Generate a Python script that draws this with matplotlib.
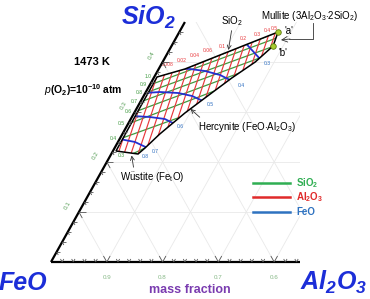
import numpy as np
import matplotlib
matplotlib.use('Agg')
import matplotlib.pyplot as plt
from matplotlib.patches import Polygon, Rectangle
from matplotlib.collections import LineCollection
from matplotlib.lines import Line2D

plt.rcParams['font.family'] = ['Liberation Sans', 'DejaVu Sans']
plt.rcParams['mathtext.fontset'] = 'custom'
plt.rcParams['mathtext.rm'] = 'Liberation Sans'
plt.rcParams['mathtext.it'] = 'Liberation Sans:italic'
plt.rcParams['mathtext.bf'] = 'Liberation Sans:bold'

H = np.sqrt(3) / 2

# compositions are mass fractions (Al2O3, SiO2), FeO is the balance
# liquid region boundary
sio2_sat_al = [0.005, 0.047, 0.089, 0.131, 0.177]
sio2_sat_si = [0.370, 0.386, 0.410, 0.434, 0.460]
herc_al = [0.182, 0.166, 0.140, 0.109, 0.091, 0.067, 0.0545]
herc_si = [0.432, 0.400, 0.368, 0.324, 0.298, 0.256, 0.228]
wus_al = [0.048, 0.0055]
wus_si = [0.216, 0.222]
fs_al = [0.005]
fs_si = [0.300]

point_a = (0.177, 0.460)
point_b = (0.182, 0.432)

# SiO2 iso-activity lines
sio2_act = ['1.0', '0.9', '0.8', '0.7', '0.6', '0.5', '0.4', '0.3']
sio2_line_al = [[0.0, 0.047, 0.089, 0.131, 0.177], [0.0, 0.188], [0.0, 0.192],
                [0.0, 0.1775], [0.0, 0.164], [0.0, 0.144], [0.0, 0.115], [0.032, 0.074]]
sio2_line_si = [[0.370, 0.386, 0.410, 0.434, 0.460], [0.354, 0.452], [0.338, 0.436],
                [0.320, 0.412], [0.300, 0.386], [0.276, 0.354], [0.246, 0.304], [0.212, 0.242]]

# FeO iso-activity lines
feo_act = ['0.3', '0.4', '0.5', '0.6', '0.7']
feo_line_al = [[0.119, 0.177], [0.023, 0.056, 0.085, 0.116, 0.1525],
               [0.0, 0.025, 0.059, 0.087, 0.116], [0.0, 0.032, 0.061, 0.084],
               [0.0, 0.0305, 0.064]]
feo_line_si = [[0.446, 0.402], [0.388, 0.386, 0.382, 0.374, 0.358],
               [0.338, 0.340, 0.338, 0.332, 0.320], [0.292, 0.290, 0.286, 0.276],
               [0.246, 0.240, 0.226]]
feo_extra_label = ('0.8', 0.0635, 0.210)

# Al2O3 iso-activity lines (top end, bottom end)
al2o3_top_al = [0.0, 0.0, 0.0032, 0.0146, 0.0259, 0.0373, 0.0487, 0.060, 0.0714,
                0.0827, 0.094, 0.1053, 0.1166, 0.128, 0.1393, 0.1507, 0.1621, 0.1718]
al2o3_top_si = [0.2756, 0.329, 0.3756, 0.3816, 0.3876, 0.3936, 0.3994, 0.4054, 0.4114,
                0.4174, 0.4234, 0.4292, 0.4352, 0.4412, 0.4472, 0.453, 0.459, 0.464]
al2o3_bot_al = [0.0125, 0.0234, 0.036, 0.049, 0.0583, 0.0679, 0.0773, 0.0869, 0.0963,
                0.1059, 0.1153, 0.1248, 0.1343, 0.1438, 0.1532, 0.1627, 0.1721, 0.1804]
al2o3_bot_si = [0.214, 0.213, 0.212, 0.211, 0.2264, 0.2416, 0.2568, 0.2718, 0.287,
                0.3022, 0.3174, 0.3328, 0.3478, 0.363, 0.3782, 0.3936, 0.4088, 0.4216]
al2o3_act = ['0.008', '0.02', '0.04', '0.06', '0.1', '0.2', '0.3', '0.4', '0.5']
al2o3_lab_al = [0.011, 0.034, 0.052, 0.070, 0.0905, 0.120, 0.141, 0.155, 0.1656]
al2o3_lab_si = [0.394, 0.402, 0.412, 0.422, 0.432, 0.448, 0.456, 0.464, 0.468]

GREEN = '#3f9a3f'
RED = '#e8383c'
BLUE = '#2530d0'


def xy(al, si):
    al = np.asarray(al, dtype=float)
    si = np.asarray(si, dtype=float)
    return al + si / 2, si * H


fig = plt.figure(figsize=(3.7, 2.99), dpi=100)
ax = fig.add_axes([0, 0, 1, 1])
ax.set_xlim(-0.0914, 0.5717)
ax.set_ylim(-0.0641, 0.4538)
ax.axis('off')

# light triangular grid, clipped to the zoomed window
win = Rectangle((0, 0), 0.446, 0.48 * H, transform=ax.transData)
grid = []
for v in [0.1, 0.2, 0.3, 0.4]:
    grid.append(np.column_stack(xy([0, 1 - v], [v, v])))
    grid.append(np.column_stack(xy([v, v], [0, 1 - v])))
for v in [0.1, 0.2, 0.3, 0.4, 0.5]:
    grid.append(np.column_stack(xy([v, 0], [0, v])))
gl = LineCollection(grid, colors='#e9e9e9', linewidths=0.6, zorder=1)
ax.add_collection(gl)
gl.set_clip_path(win)

# axes of the triangle
ax.plot(*xy([0, 0.446], [0, 0]), color='black', lw=1.6, zorder=5, solid_capstyle='butt')
ax.plot(*xy([0, 0], [0, 0.48]), color='black', lw=1.6, zorder=5, solid_capstyle='butt')

ticks = []
for v in np.arange(0.02, 0.445, 0.02):
    L = 0.012 if abs(v * 10 - round(v * 10)) < 1e-6 else 0.006
    x0, y0 = xy(v, 0)
    ticks.append([(x0, y0), (x0 - 0.5 * L, y0 + H * L)])
    ticks.append([(x0, y0), (x0 + 0.5 * L, y0 + H * L)])
for v in np.arange(0.02, 0.475, 0.02):
    L = 0.012 if abs(v * 10 - round(v * 10)) < 1e-6 else 0.006
    x0, y0 = xy(0, v)
    ticks.append([(x0, y0), (x0 + L, y0)])
    ticks.append([(x0, y0), (x0 + 0.5 * L, y0 - H * L)])
ax.add_collection(LineCollection(ticks, colors='#555555', linewidths=0.6, zorder=5))

for v in [0.1, 0.2, 0.3, 0.4]:
    ax.annotate('%.1f' % (1 - v), xy(v, 0), xytext=(0, -11.5), textcoords='offset points',
                ha='center', va='center', fontsize=4.5, color='#86b886')
    ax.annotate('%.1f' % v, xy(0, v), xytext=(-8, 5), textcoords='offset points',
                ha='center', va='center', fontsize=4.5, color='#5aa05a', rotation=60)

# liquid region
bnd_al = sio2_sat_al + herc_al + wus_al + fs_al
bnd_si = sio2_sat_si + herc_si + wus_si + fs_si
region_xy = np.column_stack(xy(bnd_al, bnd_si))
ax.add_patch(Polygon(region_xy, closed=True, facecolor='white', edgecolor='none', zorder=1.5))
clip = Polygon(region_xy, closed=True, transform=ax.transData)

for lab, la, ls in zip(sio2_act, sio2_line_al, sio2_line_si):
    ln, = ax.plot(*xy(la, ls), color=GREEN, lw=0.9, zorder=2.5)
    ln.set_clip_path(clip)
    ax.annotate(lab, xy(la[0], ls[0]), xytext=(-2, 0), textcoords='offset points',
                ha='right', va='center', fontsize=3.6, color=GREEN)

segs = [np.column_stack(xy([a0, a1], [s0, s1]))
        for a0, s0, a1, s1 in zip(al2o3_top_al, al2o3_top_si, al2o3_bot_al, al2o3_bot_si)]
rl = LineCollection(segs, colors=RED, linewidths=0.85, zorder=2.7)
ax.add_collection(rl)
rl.set_clip_path(clip)

for lab, la, ls in zip(feo_act, feo_line_al, feo_line_si):
    ln, = ax.plot(*xy(la, ls), color=BLUE, lw=1.3, zorder=2.8)
    ln.set_clip_path(clip)
    ax.annotate(lab, xy(la[-1], ls[-1]), xytext=(1.5, -1.5), textcoords='offset points',
                ha='left', va='center', fontsize=3.6, color='#2a6cc0')
ax.text(*xy(feo_extra_label[1], feo_extra_label[2]), feo_extra_label[0],
        ha='center', va='center', fontsize=3.6, color='#2a6cc0')

for lab, la, ls in zip(al2o3_act, al2o3_lab_al, al2o3_lab_si):
    ax.text(*xy(la, ls), lab, ha='center', va='center', fontsize=3.6, color=RED)

ax.add_patch(Polygon(region_xy, closed=True, facecolor='none', edgecolor='black',
                     lw=1.1, zorder=4))
ax.plot(*xy([point_a[0], point_b[0]], [point_a[1], point_b[1]]), ls='none', marker='o',
        ms=4, mfc='#a6cc2e', mec='#5d7a10', mew=0.6, zorder=6)


def fp(px, py):
    return px / 370, 1 - py / 299


# corner labels
big = dict(fontsize=18, fontweight='bold', style='italic', color='#1c2ed8',
           ha='center', va='center')
fig.text(*fp(148, 17), r'SiO$\mathregular{_2}$', **big)
fig.text(*fp(23, 283), 'FeO', **big)
fig.text(*fp(334, 282), r'Al$\mathregular{_2}$O$\mathregular{_3}$', **big)
fig.text(*fp(190, 290), 'mass fraction', fontsize=9, fontweight='bold', color='#7a3cb0',
         ha='center', va='center')

fig.text(*fp(92, 62), '1473 K', fontsize=8, fontweight='bold', ha='center', va='center')
fig.text(*fp(83, 90), r'$\mathit{p}$(O$\mathregular{_2}$)=10$\mathregular{^{-10}}$ atm',
         fontsize=7.5, fontweight='bold', ha='center', va='center')

arr = dict(arrowstyle='->', color='#333333', lw=0.6, shrinkA=0, shrinkB=0)
ax.annotate(r'SiO$\mathregular{_2}$', xy(0.106, 0.424), xytext=fp(232, 21),
            textcoords='figure fraction', fontsize=7, ha='center', va='center',
            arrowprops=dict(arr, relpos=(0.5, 0)))
ax.annotate(r'Hercynite (FeO$\cdot$Al$\mathregular{_2}$O$\mathregular{_3}$)', xy(0.097, 0.306),
            xytext=fp(247, 127), textcoords='figure fraction', fontsize=7,
            ha='center', va='center', arrowprops=dict(arr, relpos=(0.05, 1)))
ax.annotate(r'W$\mathregular{\ddot{u}}$stite (Fe$\mathregular{_t}$O)', xy(0.038, 0.213),
            xytext=fp(152, 177), textcoords='figure fraction', fontsize=7,
            ha='center', va='center', arrowprops=dict(arr, relpos=(0.22, 1)))

fig.text(*fp(310, 16), r'Mullite (3Al$\mathregular{_2}$O$\mathregular{_3}$$\cdot$2SiO$\mathregular{_2}$)',
         fontsize=7, ha='center', va='center')
bx, by = zip(fp(313, 23), fp(313, 39), fp(289, 39))
fig.add_artist(Line2D(bx, by, transform=fig.transFigure, color='#333333', lw=0.6))
ax.annotate('', xy=fp(281, 40), xytext=fp(290, 39), xycoords='figure fraction',
            textcoords='figure fraction', arrowprops=arr)
fig.text(*fp(289, 31), "'a'", fontsize=7, ha='center', va='center')
fig.text(*fp(283, 53), "'b'", fontsize=7, ha='center', va='center')

# legend
leg = [(r'SiO$\mathregular{_2}$', '#2fae52', 183), (r'Al$\mathregular{_2}$O$\mathregular{_3}$', '#e02a2a', 197),
       ('FeO', '#2e72c0', 212)]
for lab, col, py in leg:
    lx, ly = zip(fp(253, py), fp(290, py))
    fig.add_artist(Line2D(lx, ly, transform=fig.transFigure, color=col, lw=1.8))
    fig.text(*fp(296, py), lab, fontsize=7, fontweight='bold', color=col, ha='left', va='center')

fig.savefig('out.png', dpi=100)
